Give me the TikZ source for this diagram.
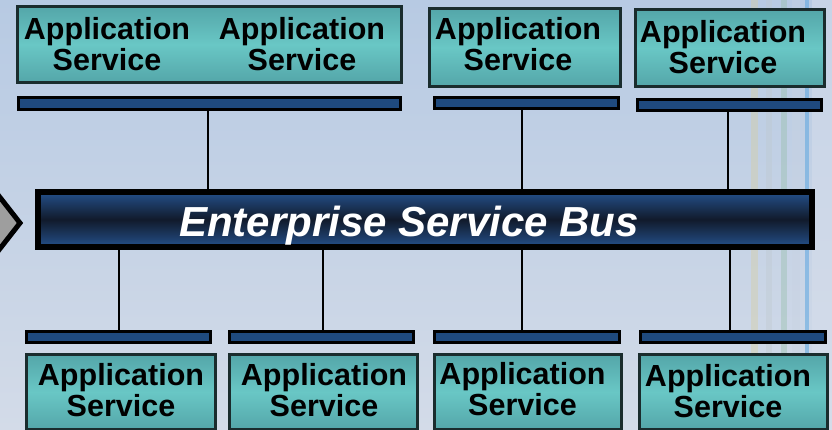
\documentclass[tikz,border=0pt]{standalone}
\usepackage{fontspec}
\setmainfont{Liberation Sans}
\usetikzlibrary{calc}
\definecolor{bgtop}{HTML}{B7CAE3}
\definecolor{bgbot}{HTML}{D3DBE8}
\definecolor{tealA}{HTML}{54A6A9}
\definecolor{tealB}{HTML}{69C7C5}
\definecolor{boxline}{HTML}{1A2C2D}
\definecolor{barblue}{HTML}{1F4A7E}
\definecolor{esbtop}{HTML}{24508A}
\definecolor{esbmid}{HTML}{111A2B}
\begin{document}
\begin{tikzpicture}[x=1pt,y=-1pt,
  appbox/.style={rectangle, draw=boxline, line width=3pt, top color=tealA, bottom color=tealA, middle color=tealB, inner sep=0pt},
  apptext/.style={align=center, inner sep=0pt, font=\fontsize{30.5}{31}\selectfont\bfseries},
  busbar/.style={rectangle, draw=black, line width=3pt, fill=barblue, inner sep=0pt},
  conn/.style={draw=black, line width=1.6pt},
  esbbox/.style={rectangle, draw=black, line width=6pt, top color=esbtop, bottom color=esbtop, middle color=esbmid, inner sep=0pt},
  esbtext/.style={text=white, inner sep=0pt, font=\fontsize{42}{44}\selectfont\bfseries\itshape}
]
\useasboundingbox (0,0) rectangle (832,430);
% background
\shade[top color=bgtop, bottom color=bgbot] (0,0) rectangle (832,430);
\fill[color={rgb,255:red,214;green,206;blue,160}, opacity=0.4] (751,0) rectangle (758,430);
\fill[color={rgb,255:red,190;green,200;blue,205}, opacity=0.35] (766,0) rectangle (772,430);
\fill[color={rgb,255:red,150;green,190;blue,170}, opacity=0.4] (781,0) rectangle (787,430);
\fill[color={rgb,255:red,200;green,210;blue,225}, opacity=0.4] (792,0) rectangle (800,430);
\fill[color={rgb,255:red,100;green,170;blue,225}, opacity=0.6] (805,0) rectangle (809,430);
\fill[color={rgb,255:red,215;green,222;blue,235}, opacity=0.5] (812,0) rectangle (832,430);

% left chevron
\path[draw=black, line width=5pt, fill={rgb,255:red,158;green,158;blue,158}]
  (-12,191) -- (-5,191) -- (20,223) -- (-5,255) -- (-12,255) -- cycle;

% top boxes
\node[appbox, minimum width=384pt, minimum height=76pt] (tbox1) at (209.5,44.5) {};
\node[apptext] (t1a) at (107,44.4) {Application\\Service};
\node[apptext] (t1b) at (302,44) {Application\\Service};
\node[appbox, minimum width=191pt, minimum height=78pt] (tbox2) at (525,47.5) {};
\node[apptext] (t2) at (518,44) {Application\\Service};
\node[appbox, minimum width=189pt, minimum height=77pt] (tbox3) at (730,48) {};
\node[apptext] (t3) at (723,47) {Application\\Service};

% top bars
\node[busbar, minimum width=382pt, minimum height=12pt] (tbar1) at (209.5,103.5) {};
\node[busbar, minimum width=184pt, minimum height=11pt] (tbar2) at (526.5,103) {};
\node[busbar, minimum width=184pt, minimum height=11pt] (tbar3) at (729.5,105) {};

% ESB
\node[esbbox, minimum width=774pt, minimum height=55pt] (esb) at (425,219.5) {};
\node[esbtext, anchor=base] (esbt) at (409,237) {Enterprise Service Bus};

% bottom bars
\node[busbar, minimum width=184pt, minimum height=11pt] (bbar1) at (118.5,337) {};
\node[busbar, minimum width=184pt, minimum height=11pt] (bbar2) at (321.5,337) {};
\node[busbar, minimum width=185pt, minimum height=11pt] (bbar3) at (527,337) {};
\node[busbar, minimum width=185pt, minimum height=11pt] (bbar4) at (733,337) {};

% bottom boxes
\node[appbox, minimum width=189pt, minimum height=75pt] (bbox1) at (121,392) {};
\node[apptext] (b1) at (121,390) {Application\\Service};
\node[appbox, minimum width=188pt, minimum height=75pt] (bbox2) at (323.5,392) {};
\node[apptext] (b2) at (324,390) {Application\\Service};
\node[appbox, minimum width=187pt, minimum height=75pt] (bbox3) at (528,392) {};
\node[apptext] (b3) at (522.5,389) {Application\\Service};
\node[appbox, minimum width=188pt, minimum height=75pt] (bbox4) at (733.5,392) {};
\node[apptext] (b4) at (728,391) {Application\\Service};

% connectors
\draw[conn] ([xshift=-1.5pt]tbar1.south) -- ([xshift=-1.5pt]tbar1.south |- esb.north);
\draw[conn] ([xshift=-4.5pt]tbar2.south) -- ([xshift=-4.5pt]tbar2.south |- esb.north);
\draw[conn] ([xshift=-1.5pt]tbar3.south) -- ([xshift=-1.5pt]tbar3.south |- esb.north);
\draw[conn] ([xshift=0.5pt]bbar1.north) -- ([xshift=0.5pt]bbar1.north |- esb.south);
\draw[conn] ([xshift=1.5pt]bbar2.north) -- ([xshift=1.5pt]bbar2.north |- esb.south);
\draw[conn] ([xshift=-5pt]bbar3.north) -- ([xshift=-5pt]bbar3.north |- esb.south);
\draw[conn] ([xshift=-3pt]bbar4.north) -- ([xshift=-3pt]bbar4.north |- esb.south);
\end{tikzpicture}
\end{document}
